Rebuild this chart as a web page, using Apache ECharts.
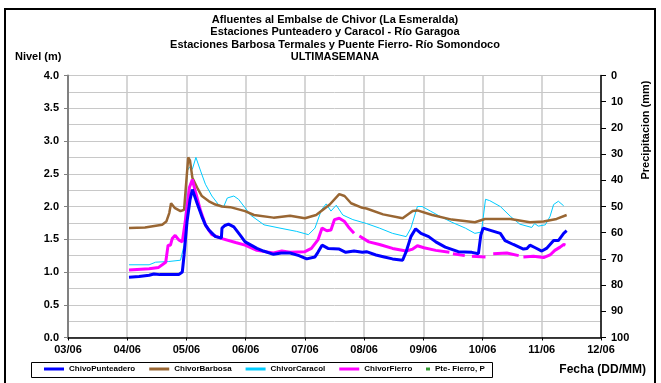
<!DOCTYPE html>
<html>
<head>
<meta charset="utf-8">
<script src="https://cdn.jsdelivr.net/npm/echarts@6/dist/echarts.min.js"></script>
<style>
  html, body { margin: 0; padding: 0; background: #fff; }
  #chart { width: 661px; height: 383px; }
</style>
</head>
<body>
<div id="chart"></div>
<script>
const FONT = '"Liberation Sans", Arial, sans-serif';

// dias (03/06 .. 12/06) en el eje x
let dias = [3, 4, 5, 6, 7, 8, 9, 10, 11, 12];

// nivel (m) -- [dia, nivel]
let punteadero = [
  [4.03, 0.92], [4.2, 0.93], [4.37, 0.95], [4.45, 0.97], [4.55, 0.96], [4.65, 0.96], [4.8, 0.96],
  [4.87, 0.96], [4.93, 1.0], [4.96, 1.26], [5.01, 1.77], [5.06, 2.1], [5.1, 2.26], [5.18, 2.05],
  [5.26, 1.85], [5.32, 1.72], [5.38, 1.64], [5.49, 1.54], [5.59, 1.52], [5.6, 1.67], [5.65, 1.71],
  [5.71, 1.73], [5.8, 1.69], [5.91, 1.56], [5.99, 1.46], [6.03, 1.44], [6.19, 1.36], [6.3, 1.32],
  [6.47, 1.27], [6.6, 1.29], [6.75, 1.29], [6.9, 1.25], [7.03, 1.2], [7.17, 1.23], [7.22, 1.3],
  [7.29, 1.41], [7.39, 1.36], [7.58, 1.35], [7.69, 1.3], [7.83, 1.32], [7.97, 1.3], [8.04, 1.31],
  [8.2, 1.26], [8.34, 1.23], [8.48, 1.2], [8.65, 1.18], [8.71, 1.31], [8.79, 1.54], [8.87, 1.66],
  [8.96, 1.59], [9.09, 1.54], [9.21, 1.46], [9.37, 1.38], [9.59, 1.31], [9.82, 1.3], [9.93, 1.28],
  [9.97, 1.56], [10.01, 1.67], [10.12, 1.64], [10.3, 1.59], [10.38, 1.48], [10.52, 1.42],
  [10.69, 1.35], [10.75, 1.36], [10.8, 1.41], [10.89, 1.37], [11.0, 1.32], [11.08, 1.36],
  [11.2, 1.48], [11.28, 1.48], [11.37, 1.59], [11.42, 1.63]
];

let barbosa = [
  [4.03, 1.67], [4.3, 1.68], [4.59, 1.72], [4.66, 1.77], [4.71, 1.9], [4.74, 2.05], [4.8, 1.98],
  [4.9, 1.93], [4.96, 1.95], [5.03, 2.75], [5.06, 2.7], [5.1, 2.44], [5.18, 2.29], [5.26, 2.16],
  [5.38, 2.08], [5.49, 2.03], [5.6, 2.0], [5.74, 1.99], [5.99, 1.93], [6.14, 1.87], [6.47, 1.83],
  [6.75, 1.86], [7.0, 1.82], [7.19, 1.87], [7.42, 2.03], [7.58, 2.19], [7.67, 2.16], [7.78, 2.05],
  [7.97, 1.98], [8.04, 1.97], [8.32, 1.88], [8.65, 1.82], [8.82, 1.93], [8.9, 1.94], [9.15, 1.87],
  [9.48, 1.8], [9.87, 1.76], [10.04, 1.81], [10.2, 1.81], [10.47, 1.81], [10.8, 1.76], [11.03, 1.77],
  [11.25, 1.81], [11.42, 1.87]
];

let caracol = [
  [4.03, 1.11], [4.37, 1.11], [4.48, 1.15], [4.7, 1.16], [4.9, 1.18], [4.96, 1.41], [5.01, 2.54],
  [5.05, 2.6], [5.1, 2.57], [5.16, 2.75], [5.24, 2.54], [5.32, 2.34], [5.43, 2.16], [5.54, 2.03],
  [5.63, 2.0], [5.69, 2.13], [5.8, 2.16], [5.88, 2.11], [5.99, 1.98], [6.08, 1.87], [6.31, 1.72],
  [6.58, 1.67], [6.86, 1.62], [7.06, 1.57], [7.17, 1.67], [7.28, 1.95], [7.36, 2.04], [7.44, 1.93],
  [7.53, 2.02], [7.64, 1.87], [7.81, 1.8], [8.04, 1.74], [8.26, 1.67], [8.48, 1.59], [8.71, 1.54],
  [8.79, 1.67], [8.9, 2.0], [8.98, 2.0], [9.12, 1.93], [9.26, 1.86], [9.48, 1.76], [9.71, 1.67],
  [9.87, 1.59], [9.98, 1.61], [10.05, 2.11], [10.12, 2.09], [10.3, 2.0], [10.47, 1.85], [10.63, 1.73],
  [10.83, 1.68], [10.88, 1.74], [10.94, 1.7], [11.06, 1.72], [11.14, 1.85], [11.2, 2.03],
  [11.28, 2.08], [11.37, 2.01]
];

// null = dato faltante (cortes en la linea)
let fierro = [
  [4.03, 1.03], [4.37, 1.05], [4.53, 1.07], [4.65, 1.15], [4.69, 1.41], [4.73, 1.41], [4.76, 1.51],
  [4.81, 1.56], [4.87, 1.49], [4.93, 1.46], [4.98, 1.77], [5.05, 2.29], [5.1, 2.41], [5.15, 2.23],
  [5.24, 1.93], [5.32, 1.72], [5.43, 1.57], [5.6, 1.51], [5.83, 1.45], [5.99, 1.41], [6.19, 1.33],
  [6.47, 1.29], [6.61, 1.32], [6.75, 1.3], [7.0, 1.31], [7.11, 1.36], [7.22, 1.49], [7.29, 1.67],
  [7.37, 1.63], [7.44, 1.64], [7.5, 1.8], [7.58, 1.82], [7.67, 1.77], [7.75, 1.67], [7.83, 1.59],
  [7.86, null], [7.92, 1.55], [8.08, 1.46], [8.26, 1.42], [8.48, 1.36], [8.71, 1.32], [8.82, 1.35],
  [8.9, 1.4], [9.01, 1.37], [9.21, 1.33], [9.44, 1.3], [9.47, null], [9.5, 1.28], [9.7, 1.25],
  [9.75, null], [9.82, 1.24], [10.05, 1.23], [10.1, null], [10.18, 1.28], [10.41, 1.29],
  [10.61, 1.25], [10.65, null], [10.69, 1.23], [10.86, 1.24], [11.03, 1.22], [11.14, 1.26],
  [11.22, 1.33], [11.31, 1.38], [11.37, 1.42], [11.4, 1.41]
];

// precipitacion (mm) Pte-Fierro: sin registros en la semana
let precipFierro = [];

let titulo = [
  'Afluentes al Embalse de Chivor (La Esmeralda)',
  'Estaciones Punteadero y Caracol - Río Garagoa',
  'Estaciones Barbosa Termales y Puente Fierro- Río Somondoco',
  'ULTIMASEMANA'
];

var chartDom = document.getElementById('chart');
var myChart = echarts.init(chartDom);

var labelStyle = { color: '#000', fontWeight: 'bold', fontSize: 11, fontFamily: FONT };
var legendText = { fontSize: 8, fontWeight: 'bold', color: '#000', fontFamily: FONT };

var option = {
  animation: false,
  backgroundColor: '#fff',
  textStyle: { fontFamily: FONT },
  grid: { left: 68, right: 60, top: 75.5, bottom: 45.5 },
  graphic: [
    {
      type: 'rect',
      shape: { x: 5, y: 9, width: 650, height: 380 },
      style: { fill: 'none', stroke: '#000', lineWidth: 2 },
      silent: true
    },
    {
      // caja de la leyenda
      type: 'rect',
      shape: { x: 31.5, y: 362.5, width: 461, height: 15 },
      style: { fill: 'none', stroke: '#000', lineWidth: 1 },
      silent: true
    },
    {
      type: 'text', x: 335, y: 14,
      style: {
        text: titulo.join('\n'), textAlign: 'center', fill: '#000',
        font: 'bold 11px ' + FONT, lineHeight: 12.3
      }
    },
    {
      type: 'text', x: 15, y: 51,
      style: { text: 'Nivel (m)', fill: '#000', font: 'bold 11px ' + FONT }
    },
    {
      type: 'text', x: 646, y: 130, rotation: Math.PI / 2,
      style: {
        text: 'Precipitacion (mm)', textAlign: 'center', textVerticalAlign: 'middle',
        fill: '#000', font: 'bold 11px ' + FONT
      }
    },
    {
      type: 'text', x: 646, y: 370,
      style: {
        text: 'Fecha (DD/MM)', textAlign: 'right', textVerticalAlign: 'middle',
        fill: '#000', font: 'bold 12px ' + FONT
      }
    }
  ],
  legend: [
    {
      left: 44, top: 365, padding: 0,
      itemWidth: 20, itemHeight: 3, itemGap: 14,
      textStyle: legendText,
      icon: 'rect',
      data: ['ChivoPunteadero', 'ChivorBarbosa', 'ChivorCaracol', 'ChivorFierro']
    },
    {
      left: 426, top: 365, padding: 0,
      itemWidth: 4, itemHeight: 3,
      textStyle: legendText,
      icon: 'rect',
      data: ['Pte- Fierro, P']
    }
  ],
  xAxis: {
    type: 'value',
    min: dias[0], max: dias[dias.length - 1], interval: 1,
    axisLine: { lineStyle: { color: '#000', width: 1.5 } },
    axisTick: { show: true, length: 3, lineStyle: { color: '#000' } },
    axisLabel: Object.assign({ margin: 7, formatter: function (v) { return (v < 10 ? '0' + v : v) + '/06'; } }, labelStyle),
    splitLine: { show: true, lineStyle: { color: '#c8c8c8', width: 1.5 } }
  },
  yAxis: [
    {
      type: 'value', min: 0, max: 4, interval: 0.5,
      axisLine: { show: true, lineStyle: { color: '#808080', width: 2 } },
      axisTick: { show: true, length: 4, lineStyle: { color: '#808080' } },
      axisLabel: Object.assign({ margin: 9, formatter: function (v) { return v.toFixed(1); } }, labelStyle),
      splitLine: { show: true, lineStyle: { color: '#c8c8c8', width: 1 } },
      minorTick: { show: false, splitNumber: 2 },
      minorSplitLine: { show: true, lineStyle: { color: '#c8c8c8', width: 1 } }
    },
    {
      type: 'value', min: 0, max: 100, interval: 10, inverse: true, position: 'right',
      axisLine: { show: true, lineStyle: { color: '#000', width: 1.5 } },
      axisTick: { show: true, length: 5, lineStyle: { color: '#000' } },
      axisLabel: Object.assign({ margin: 10 }, labelStyle),
      splitLine: { show: false }
    }
  ],
  series: [
    {
      name: 'ChivoPunteadero', type: 'line', data: punteadero, showSymbol: false,
      color: '#0000ff', lineStyle: { width: 3, color: '#0000ff' }, z: 5
    },
    {
      name: 'ChivorBarbosa', type: 'line', data: barbosa, showSymbol: false,
      color: '#996633', lineStyle: { width: 2.5, color: '#996633' }, z: 3
    },
    {
      name: 'ChivorCaracol', type: 'line', data: caracol, showSymbol: false,
      color: '#00ccff', lineStyle: { width: 1, color: '#00ccff' }, z: 2
    },
    {
      name: 'ChivorFierro', type: 'line', data: fierro, showSymbol: false, connectNulls: false,
      color: '#ff00ff', lineStyle: { width: 3, color: '#ff00ff' }, z: 4
    },
    {
      name: 'Pte- Fierro, P', type: 'scatter', yAxisIndex: 1, data: precipFierro,
      symbol: 'rect', symbolSize: 3, color: '#008000'
    }
  ]
};

myChart.setOption(option);
</script>
</body>
</html>
